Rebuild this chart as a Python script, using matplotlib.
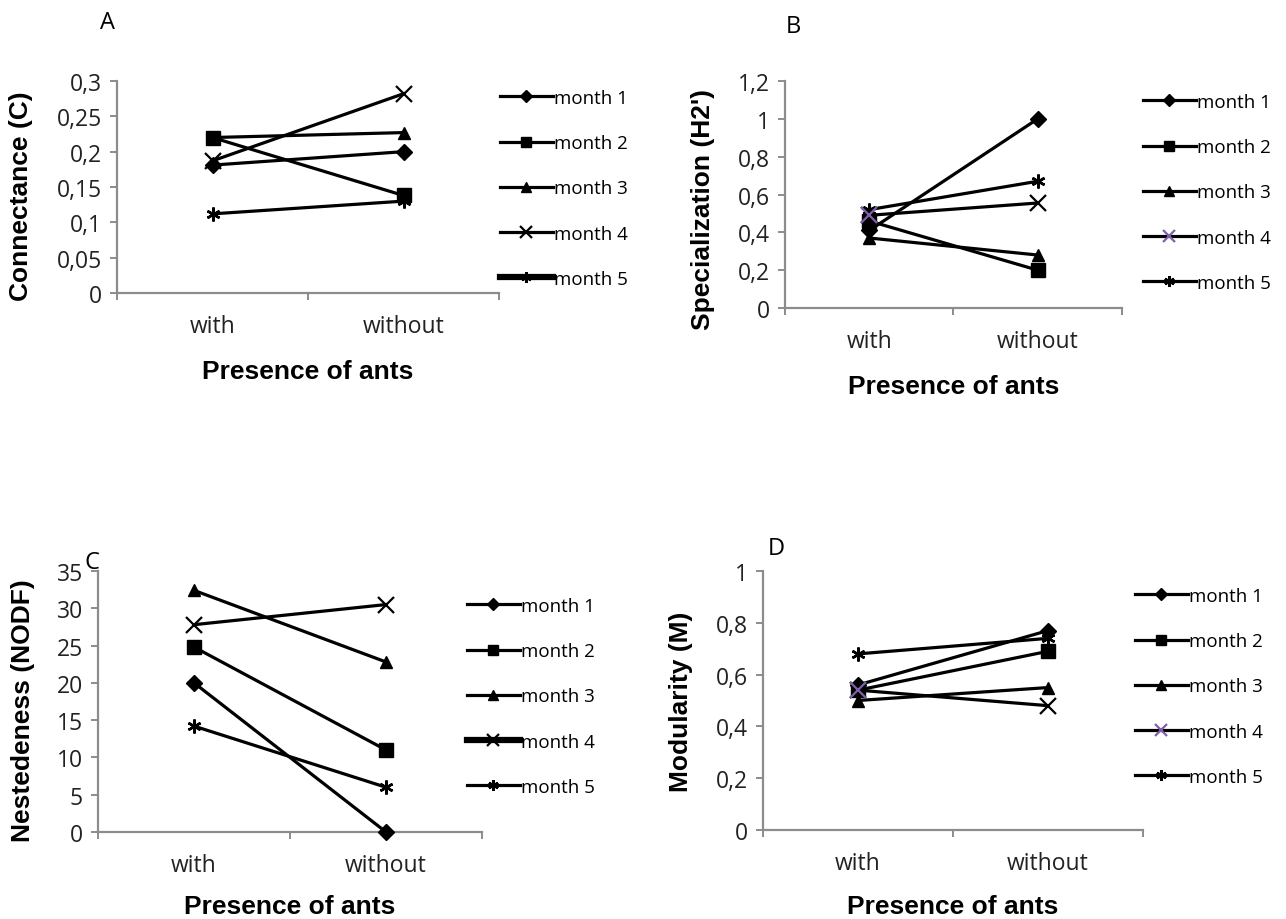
import numpy as np
import matplotlib
matplotlib.use('Agg')
import matplotlib.pyplot as plt
from matplotlib.lines import Line2D
from matplotlib.ticker import MultipleLocator, FuncFormatter

# ------------------------------------------------------------
# Data (values per month: with / without ants)
# ------------------------------------------------------------
groups = ['with', 'without']
months = ['month 1', 'month 2', 'month 3', 'month 4', 'month 5']

connectance_with = [0.181, 0.220, 0.220, 0.187, 0.112]
connectance_without = [0.200, 0.138, 0.227, 0.282, 0.130]

specialization_with = [0.41, 0.46, 0.37, 0.49, 0.52]
specialization_without = [1.00, 0.20, 0.28, 0.555, 0.67]

nestedness_with = [20.0, 24.8, 32.4, 27.8, 14.2]
nestedness_without = [0.0, 11.0, 22.8, 30.5, 6.0]

modularity_with = [0.56, 0.54, 0.50, 0.54, 0.68]
modularity_without = [0.77, 0.69, 0.55, 0.48, 0.74]

# ------------------------------------------------------------
# Styling
# ------------------------------------------------------------
W, H = 1286, 920
TICK_FONT = 'Open Sans'
LABEL_FONT = 'Liberation Sans'
GREY = '#8c8c8c'
PURPLE = '#7f5fa8'
STAR = (6, 2, 0)

markers = ['D', 's', '^', 'x', STAR]
msizes = [8, 10, 9, 11, 10]
medges = [1, 1, 1, 1.6, 1.8]

fig = plt.figure(figsize=(W / 100, H / 100), dpi=100)


def add_panel(box, y_with, y_without, ylim, step, ylabel, ylab_xy, xlab_y,
              legend_xy, purple_m4=False, thick_legend=None):
    left, right, top, bottom = box
    ax = fig.add_axes([left / W, 1 - bottom / H, (right - left) / W,
                       (bottom - top) / H])
    xpos = [0.5, 1.5]
    for i in range(len(months)):
        ax.plot(xpos, [y_with[i], y_without[i]], color='black', lw=2.3,
                marker=markers[i], ms=msizes[i], mew=medges[i],
                mfc='black', mec='black', clip_on=False, zorder=3)
    if purple_m4:
        ax.plot(xpos[0], y_with[3], marker='x', ms=msizes[3], mew=medges[3],
                color=PURPLE, zorder=4, clip_on=False)

    ax.set_xlim(0, 2)
    ax.set_ylim(*ylim)
    ax.yaxis.set_major_locator(MultipleLocator(step))
    ax.yaxis.set_major_formatter(
        FuncFormatter(lambda v, _: f'{round(v, 3):g}'.replace('.', ',')))
    ax.set_xticks([0, 1, 2])
    ax.set_xticklabels([])
    ax.set_xticks(xpos, minor=True)
    ax.set_xticklabels(groups, minor=True)

    for s in ['top', 'right']:
        ax.spines[s].set_visible(False)
    for s in ['left', 'bottom']:
        ax.spines[s].set_color(GREY)
        ax.spines[s].set_linewidth(1.6)
    ax.tick_params(axis='y', direction='out', length=5, width=1.4,
                   color=GREY, pad=6, labelsize=16.5)
    ax.tick_params(axis='x', which='major', direction='out', length=5,
                   width=1.4, color=GREY)
    ax.tick_params(axis='x', which='minor', length=0, pad=15, labelsize=16.5)
    for lab in ax.get_yticklabels() + ax.get_xticklabels(minor=True):
        lab.set_fontfamily(TICK_FONT)
        lab.set_color('#222222')

    ax.set_ylabel(ylabel, fontfamily=LABEL_FONT, fontweight='bold',
                  fontsize=19)
    ax.yaxis.set_label_coords(*ylab_xy)
    ax.set_xlabel('Presence of ants', fontfamily=LABEL_FONT,
                  fontweight='bold', fontsize=19, va='top')
    ax.xaxis.set_label_coords(0.5, xlab_y)

    handles = []
    for i, m in enumerate(months):
        lw = 4.5 if thick_legend == i else 2.3
        col = PURPLE if (purple_m4 and i == 3) else 'black'
        handles.append(Line2D([], [], color='black', lw=lw,
                              marker=markers[i], ms=msizes[i] * 0.75,
                              mew=medges[i], mfc=col, mec=col))
    ax.legend(handles, months, loc='upper left',
              bbox_to_anchor=(legend_xy[0] / W, 1 - legend_xy[1] / H),
              bbox_transform=fig.transFigure, frameon=False,
              prop={'family': TICK_FONT, 'size': 13.5},
              handlelength=2.8, handletextpad=0.1, labelspacing=1.45,
              borderpad=0, borderaxespad=0)
    return ax


# A: connectance
add_panel((117, 499, 82, 294), connectance_with, connectance_without,
          (0, 0.3), 0.05, 'Connectance (C)', (-0.22, 0.46), -0.31,
          (500, 90), thick_legend=4)
# B: specialization
add_panel((785, 1122, 82, 309), specialization_with, specialization_without,
          (0, 1.2), 0.2, "Specialization (H2')", (-0.208, 0.44), -0.29,
          (1143, 94), purple_m4=True)
# C: nestedness
add_panel((98, 482, 572, 833), nestedness_with, nestedness_without,
          (0, 35), 5, 'Nestedeness (NODF)', (-0.164, 0.47), -0.238,
          (467, 598), thick_legend=3)
# D: modularity
add_panel((763, 1143, 572, 831), modularity_with, modularity_without,
          (0, 1), 0.2, 'Modularity (M)', (-0.184, 0.5), -0.247,
          (1135, 588), purple_m4=True)

for letter, (px, py) in zip('ABCD', [(108, 23), (793, 27), (92, 563),
                                     (776, 549)]):
    fig.text(px / W, 1 - py / H, letter, ha='center', va='center',
             fontfamily=TICK_FONT, fontsize=17)

fig.savefig('out.png', dpi=100)
